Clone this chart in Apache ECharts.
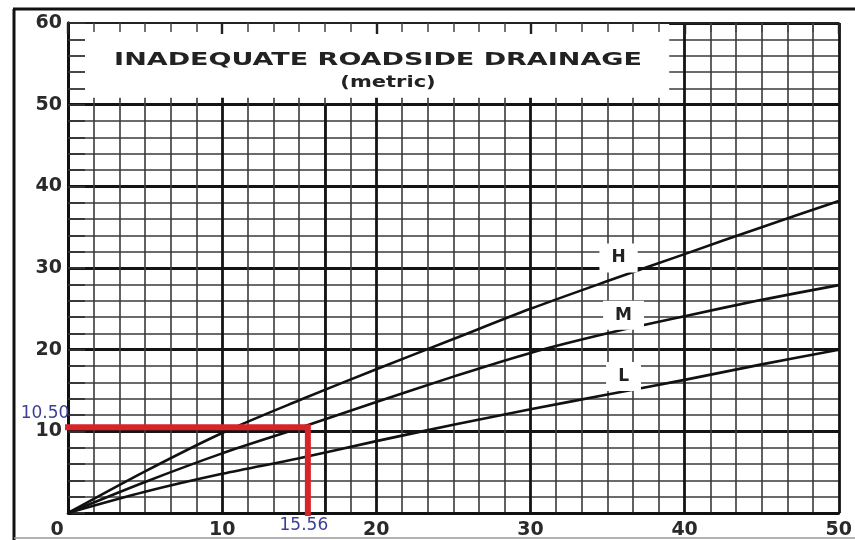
<!DOCTYPE html>
<html><head><meta charset="utf-8">
<script src="https://cdn.jsdelivr.net/npm/echarts@6/dist/echarts.min.js"></script>
<style>html,body{margin:0;padding:0;background:#fff}#c{width:855px;height:540px}</style>
</head><body><div id="c"></div>
<script>
// ---- data ----
const xValues = [0, 5, 10, 15, 20, 25, 30, 35, 40, 45, 50];
const curveH  = [0, 5.1, 9.8, 13.8, 17.6, 21.3, 25.0, 28.4, 31.7, 35.0, 38.2];
const curveM  = [0, 3.8, 7.3, 10.4, 13.6, 16.7, 19.6, 22.0, 24.1, 26.1, 27.9];
const curveL  = [0, 2.6, 4.8, 6.7, 8.8, 10.8, 12.7, 14.5, 16.3, 18.2, 20.0];
const curveNames = ['H', 'M', 'L'];
const readX = 15.56;
const readY = 10.50;
const extraMajorX = [16.67];
const titleText = 'INADEQUATE ROADSIDE DRAINAGE';
const subtitleText = '(metric)';
const xRange = [0, 50];
const yRange = [0, 60];
const titleBoxXEnd = 39;   // title box covers grid from x=0..39, y above 50
const titleBoxYStart = 50;

// ---- chart ----
const font = 'DejaVu Sans';
const chart = echarts.init(document.getElementById('c'));
const majorLine = {show: true, lineStyle: {color: '#141414', width: 2.8}};
const minorLine = {show: true, lineStyle: {color: '#3a3a3a', width: 1.6}};
const curves = [curveH, curveM, curveL];
const labelIdx = 7;
const labelOffsets = [[11, -23], [16, -18], [16, -18]];
const pairs = ys => xValues.map((x, i) => [x, ys[i]]);

const series = curves.map((ys, k) => ({
  type: 'line', name: curveNames[k], data: pairs(ys),
  showSymbol: false, smooth: 0.3, z: 3,
  lineStyle: {color: '#111', width: 2.6},
  markPoint: {
    symbol: 'circle', symbolSize: 0, silent: true,
    data: [{coord: [xValues[labelIdx], ys[labelIdx]], value: curveNames[k]}],
    label: {show: true, position: 'inside', offset: labelOffsets[k], formatter: '{c}',
      fontFamily: font, fontSize: 17, fontWeight: 'bold', color: '#222',
      backgroundColor: '#fff', padding: [6, 12]}
  },
  markLine: k === 0 ? {
    silent: true, symbol: ['none', 'none'], label: {show: false},
    lineStyle: {color: '#141414', width: 2.8, type: 'solid'},
    data: extraMajorX.map(v => [{coord: [v, yRange[0]]}, {coord: [v, titleBoxYStart]}])
  } : undefined
}));

series.push({
  type: 'line', name: 'reading', z: 6, clip: false, showSymbol: false,
  data: [[xRange[0], readY], [readX, readY], [readX, yRange[0]]],
  lineStyle: {color: '#d7242a', width: 6, cap: 'square', join: 'miter'},
  markPoint: {
    symbol: 'circle', symbolSize: 0, silent: true,
    label: {show: true, position: 'inside', formatter: '{c}',
      fontFamily: font, fontSize: 17, color: '#3d3f96'},
    data: [
      {coord: [xRange[0], readY], value: readY.toFixed(2), label: {offset: [-23, -14]}},
      {coord: [readX, yRange[0]], value: readX.toFixed(2), label: {offset: [-4, 13]}}
    ]
  }
});

const axisLabelStyle = {fontFamily: font, fontSize: 19, fontWeight: 'bold', color: '#2a2a2a'};

chart.setOption({
  animation: false,
  backgroundColor: '#fff',
  grid: {left: 68, top: 23, right: 12, bottom: 27},
  xAxis: [
    {type: 'value', min: xRange[0], max: xRange[1], interval: 10, position: 'bottom', z: 0,
     axisLine: {show: true, onZero: false, lineStyle: {color: '#111', width: 2.6}},
     axisTick: {show: false},
     axisLabel: Object.assign({margin: 8,
       formatter: v => v === 0 ? '{z|0}' : String(v),
       rich: {z: Object.assign({padding: [0, 22, 0, 0]}, axisLabelStyle)}}, axisLabelStyle),
     splitLine: majorLine,
     minorTick: {show: false, splitNumber: 6},
     minorSplitLine: minorLine},
    {type: 'value', min: xRange[0], max: xRange[1], interval: 10, position: 'top', z: 3,
     axisLine: {show: true, onZero: false, lineStyle: {color: '#222', width: 2}},
     axisTick: {show: true, inside: true, length: 11, lineStyle: {color: '#222', width: 2.4}},
     minorTick: {show: true, splitNumber: 6, length: 9, lineStyle: {color: '#444', width: 1.5}},
     axisLabel: {show: false}, splitLine: {show: false}}
  ],
  yAxis: [
    {type: 'value', min: yRange[0], max: yRange[1], interval: 10, position: 'left', z: 0,
     axisLine: {show: true, onZero: false, lineStyle: {color: '#111', width: 3}},
     axisTick: {show: false},
     axisLabel: Object.assign({margin: 6, formatter: v => v === 0 ? '' : String(v)}, axisLabelStyle),
     splitLine: majorLine,
     minorTick: {show: false, splitNumber: 5},
     minorSplitLine: minorLine},
    {type: 'value', min: yRange[0], max: yRange[1], interval: 10, position: 'left', z: 3,
     axisLine: {show: true, onZero: false, lineStyle: {color: '#111', width: 3}},
     axisTick: {show: true, inside: true, length: 17, lineStyle: {color: '#333', width: 1.8}},
     minorTick: {show: true, splitNumber: 5, length: 17, lineStyle: {color: '#333', width: 1.8}},
     axisLabel: {show: false}, splitLine: {show: false}}
  ],
  series: series
});

// title box cover + title text + frame
const pTL = chart.convertToPixel({gridIndex: 0}, [xRange[0], yRange[1]]);
const pBR = chart.convertToPixel({gridIndex: 0}, [titleBoxXEnd, titleBoxYStart]);
chart.setOption({
  graphic: [
    {type: 'rect', z: 1, silent: true,
     shape: {x: pTL[0] + 1, y: pTL[1] + 1, width: pBR[0] - pTL[0] - 1, height: pBR[1] - pTL[1] - 8},
     style: {fill: '#fff'}},
    {type: 'text', z: 4, x: 378, y: 60, scaleX: 1.5, silent: true,
     style: {text: titleText, font: 'bold 18px "DejaVu Sans"', fill: '#222', align: 'center', verticalAlign: 'middle'}},
    {type: 'text', z: 4, x: 388, y: 83, scaleX: 1.4, silent: true,
     style: {text: subtitleText, font: 'bold 15px "DejaVu Sans"', fill: '#222', align: 'center', verticalAlign: 'middle'}},
    {type: 'line', z: 5, silent: true, shape: {x1: 14, y1: 9, x2: 14, y2: 540}, style: {stroke: '#111', lineWidth: 3}},
    {type: 'line', z: 5, silent: true, shape: {x1: 13, y1: 9, x2: 855, y2: 9}, style: {stroke: '#111', lineWidth: 3}},
    {type: 'line', z: 5, silent: true, shape: {x1: 14, y1: 538, x2: 855, y2: 538}, style: {stroke: '#999', lineWidth: 1.5}}
  ]
});
</script>
</body></html>
